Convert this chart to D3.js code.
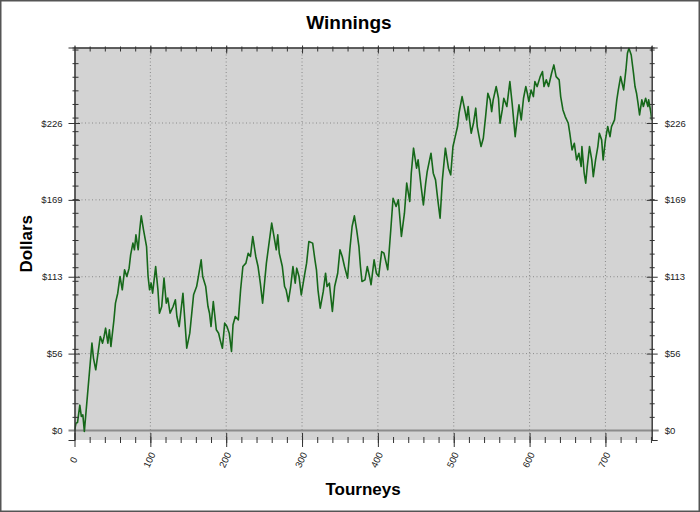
<!DOCTYPE html>
<html>
<head>
<meta charset="utf-8">
<script src="https://cdn.jsdelivr.net/npm/d3@7"></script>
<style>
  body { margin: 0; background: #fff; }
  text { font-family: "Liberation Sans", Arial, sans-serif; }
</style>
</head>
<body>
<svg width="700" height="512"></svg>
<script>
// values: tourney number and running winnings
const tourneys = [0, 2, 4, 7, 9, 11, 13, 23, 25, 28, 31, 34, 37, 39, 41, 44, 46, 48, 52, 54, 57, 60, 63, 66, 69, 72, 74, 77, 79, 81, 84, 86, 88, 91, 95, 97, 99, 101, 103, 107, 110, 112, 115, 118, 121, 123, 126, 130, 133, 135, 138, 143, 148, 152, 157, 161, 163, 167, 169, 173, 176, 178, 180, 183, 187, 190, 192, 195, 198, 201, 204, 207, 209, 212, 216, 219, 222, 226, 229, 232, 235, 239, 242, 245, 248, 253,
  260, 263, 266, 268, 270, 274, 277, 279, 282, 285, 288, 291, 293, 296, 299, 303, 306, 309, 314, 317, 319, 321, 324, 328, 331, 333, 336, 340, 343, 347, 350, 353, 356, 360, 363, 366, 369, 372, 375, 377, 379, 383, 386, 389, 391, 395, 398, 401, 405, 408, 413, 417, 420, 424, 427, 431, 435, 438, 442, 444, 447, 451, 453, 457, 460, 463, 465, 470, 473, 476, 479, 482, 485, 489, 493, 496, 499, 501, 505, 507,
  511, 515, 517, 519, 521, 523, 526, 529, 531, 533, 536, 539, 542, 545, 548, 550, 552, 556, 559, 561, 564, 566, 570, 574, 577, 581, 584, 586, 589, 592, 595, 597, 599, 602, 605, 607, 610, 614, 617, 619, 622, 625, 629, 632, 635, 639, 641, 644, 647, 651, 653, 656, 659, 662, 665, 668, 669, 672, 674, 676, 679, 682, 684, 687, 690, 692, 695, 697, 700, 703, 706, 708, 712, 715, 717, 720, 722, 724, 727, 729, 731, 734, 737, 739, 741, 743, 745, 748, 750, 753, 756, 757, 760, 761];

const dollars = [0, 5.4, 5.9, 18.6, 10.3, 11.5, -0.7, 64.2, 53.2, 44.6, 56.8, 69.1, 64.2, 69.1, 75.2, 64.2, 74, 61.7, 81.3, 93.6, 100.9, 113.2, 103.4, 118.1, 113.2, 119.3, 129.1, 137.7, 132.8, 143.8, 132.8, 147.5, 157.8, 147.5, 135.2, 113.2, 103.4, 108.3, 100.9, 120.5, 103.4, 86.2, 91.1, 112, 93.6, 97.3, 86.2, 91.1, 96, 83.8, 76.4, 100.9, 60.5, 71.5, 99.7, 105.8, 112, 125.4, 113.2, 105.8, 91.1, 86.2, 76.4, 94.8, 74, 71.5, 66.6, 60.5, 78.9, 76.4, 71.5, 58.1, 77.7, 83.8, 81.3, 103.4, 120.5, 123, 130.3, 127.9, 142.6, 127.9, 120.5, 108.3, 93.6, 123,
  152.4, 142.6, 132.8, 143.8, 130.3, 120.5, 105.8, 103.4, 94.8, 105.8, 120.5, 108.3, 119.3, 113.2, 99.7, 113.2, 123, 138.9, 137.7, 125.4, 118.1, 103.4, 89.9, 102.2, 115.6, 105.8, 108.3, 87.5, 105.8, 115.6, 132.8, 127.9, 120.5, 112, 132.8, 149.9, 157.8, 147.5, 135.2, 120.5, 109.5, 110.7, 120.5, 113.2, 107.1, 125.4, 115.6, 113.2, 131.5, 130.3, 118.1, 147.5, 170.7, 164.6, 169.5, 142.6, 159.7, 181.8, 168.3, 189.1, 207.5, 192.8, 198.9, 179.3, 165.8, 181.8, 190.3, 203.8, 189.1, 184.2, 169.5, 156, 184.2, 207.5, 192.8, 187.9, 208.7, 213.6, 223.4, 233.2,
  245.4, 234.4, 228.3, 238.1, 227.1, 218.5, 225.8, 236.9, 223.4, 217.3, 208.7, 214.8, 230.7, 247.9, 243, 234.4, 243, 252.8, 244.2, 225.8, 235.6, 244.2, 238.1, 256.4, 240.5, 216, 230.7, 239.3, 228.3, 244.2, 252.8, 247.9, 241.8, 250.3, 245.4, 256.4, 252.8, 260.1, 263.8, 252.8, 257.7, 252.8, 262.6, 268.7, 260.1, 257.7, 245.4, 235.6, 230.7, 225.8, 218.5, 206.2, 211.1, 198.9, 203.8, 194, 208.7, 189.1, 181.8, 194, 208.7, 198.9, 186.6, 198.9, 208.7, 218.5, 213.6, 198.9, 213.6, 223.4, 216, 223.4, 228.3, 243, 250.3, 260.1, 255.2, 250.3, 265, 277.3, 281, 276, 262.6, 252.8, 247.9, 240.5, 232, 243, 238.1, 244.2, 238.1, 243, 233.2, 228];

const yTicks = [0, 56.5, 113, 169.5, 226];
const yTickLabels = ["$0", "$56", "$113", "$169", "$226"];
const xTicks = [0, 100, 200, 300, 400, 500, 600, 700];
const yMinor = d3.range(10, 281, 10);
const xMinor = d3.range(20, 761, 20);

var svg = d3.select("svg"),
  width = +svg.attr("width"),
  height = +svg.attr("height");

var x = d3.scaleLinear().domain([0, 761]).range([74.5, 651.7]);
var y = d3.scaleLinear().domain([-7, 281.5]).range([440, 47.5]);

// outer frame
svg.append("rect")
  .attr("x", 0.75).attr("y", 0.75)
  .attr("width", width - 1.5).attr("height", height - 1.5)
  .attr("fill", "none").attr("stroke", "#555").attr("stroke-width", 1.5);

// plot background
svg.append("rect")
  .attr("x", x.range()[0]).attr("y", y.range()[1])
  .attr("width", x.range()[1] - x.range()[0])
  .attr("height", y.range()[0] - y.range()[1])
  .attr("fill", "#d3d3d3");

// dotted grid
svg.append("g").selectAll("line")
  .data(xTicks.slice(1))
  .enter().append("line")
  .attr("x1", d => x(d)).attr("x2", d => x(d))
  .attr("y1", y.range()[1]).attr("y2", y.range()[0])
  .attr("stroke", "#8a8a8a").attr("stroke-dasharray", "1,2.5");

svg.append("g").selectAll("line")
  .data(yTicks.slice(1))
  .enter().append("line")
  .attr("x1", x.range()[0]).attr("x2", x.range()[1])
  .attr("y1", d => y(d)).attr("y2", d => y(d))
  .attr("stroke", "#8a8a8a").attr("stroke-dasharray", "1,2.5");

// zero line
svg.append("line")
  .attr("x1", x.range()[0] - 6).attr("x2", x.range()[1] + 7)
  .attr("y1", y(0)).attr("y2", y(0))
  .attr("stroke", "#8c8c8c").attr("stroke-width", 2);

svg.append("clipPath").attr("id", "clip")
  .append("rect")
  .attr("x", x.range()[0]).attr("y", y.range()[1])
  .attr("width", x.range()[1] - x.range()[0])
  .attr("height", y.range()[0] - y.range()[1]);

var line = d3.line()
  .x((d, i) => x(tourneys[i]))
  .y(d => y(d));

svg.append("path")
  .datum(dollars)
  .attr("clip-path", "url(#clip)")
  .attr("fill", "none")
  .attr("stroke", "#16681a")
  .attr("stroke-width", 1.6)
  .attr("stroke-linejoin", "round")
  .attr("d", line);

// ticks cross the axis line: inner part into the plot, outer part away from it
function crossTicks(g, inner, outer, horiz) {
  g.selectAll(".tick line").each(function() {
    var l = d3.select(this);
    if (horiz) {
      var s = +l.attr("y2") < 0 ? -1 : 1;
      l.attr("y1", -s * inner).attr("y2", s * outer);
    } else {
      var s2 = +l.attr("x2") < 0 ? -1 : 1;
      l.attr("x1", -s2 * inner).attr("x2", s2 * outer);
    }
  });
  g.selectAll(".tick line").attr("stroke", "#333");
  g.select(".domain").attr("stroke", "#333");
  g.selectAll(".tick text")
    .attr("fill", "#222")
    .style("font-size", "9.5px")
    .style("font-family", "'Liberation Sans', Arial, sans-serif");
}

var leftAxis = svg.append("g").attr("transform", `translate(${x.range()[0]},0)`);
leftAxis.append("g").call(d3.axisLeft(y).tickValues(yMinor).tickFormat("").tickSizeOuter(0).tickSize(2))
  .call(g => crossTicks(g, 4, 2, false));
leftAxis.append("g").call(d3.axisLeft(y).tickValues(yTicks.slice(1)).tickFormat((d, i) => yTickLabels[i + 1]).tickSizeOuter(0).tickSize(6).tickPadding(6))
  .call(g => crossTicks(g, 5.5, 6, false));

var rightAxis = svg.append("g").attr("transform", `translate(${x.range()[1]},0)`);
rightAxis.append("g").call(d3.axisRight(y).tickValues(yMinor).tickFormat("").tickSizeOuter(0).tickSize(3))
  .call(g => crossTicks(g, 2, 3, false));
rightAxis.append("g").call(d3.axisRight(y).tickValues(yTicks.slice(1)).tickFormat((d, i) => yTickLabels[i + 1]).tickSizeOuter(0).tickSize(6).tickPadding(7))
  .call(g => crossTicks(g, 5, 6, false));

// $0 labels sit on the zero line
[[x.range()[0] - 12, "end"], [x.range()[1] + 13, "start"]].forEach(function(p) {
  svg.append("text")
    .attr("x", p[0]).attr("y", y(0)).attr("dy", "0.35em")
    .attr("text-anchor", p[1])
    .attr("fill", "#222")
    .style("font-size", "9.5px")
    .text(yTickLabels[0]);
});

var topAxis = svg.append("g").attr("transform", `translate(0,${y.range()[1]})`);
topAxis.append("g").call(d3.axisTop(x).tickValues(xMinor).tickFormat("").tickSizeOuter(0).tickSize(1))
  .call(g => crossTicks(g, 4, 1, true));
topAxis.append("g").call(d3.axisTop(x).tickValues(xTicks.slice(1)).tickFormat("").tickSizeOuter(0).tickSize(2))
  .call(g => crossTicks(g, 6, 2, true));

var bottomAxis = svg.append("g").attr("transform", `translate(0,${y.range()[0]})`);
bottomAxis.append("g").call(d3.axisBottom(x).tickValues(xMinor).tickFormat("").tickSizeOuter(0).tickSize(3))
  .call(g => crossTicks(g, 3, 3, true));
bottomAxis.append("g").call(d3.axisBottom(x).tickValues(xTicks).tickFormat("").tickSizeOuter(0).tickSize(7))
  .call(g => crossTicks(g, 7, 7, true));
bottomAxis.selectAll(".domain").remove();

// rotated x labels
svg.append("g").selectAll("text")
  .data(xTicks)
  .enter().append("text")
  .attr("transform", d => `translate(${x(d) - 1},460) rotate(-65)`)
  .attr("text-anchor", "middle")
  .attr("dy", "0.35em")
  .attr("fill", "#222")
  .style("font-size", "9.5px")
  .text(d => d);

// titles
svg.append("text")
  .attr("x", 349).attr("y", 29)
  .attr("text-anchor", "middle")
  .attr("font-weight", "bold")
  .style("font-size", "19px")
  .text("Winnings");

svg.append("text")
  .attr("x", (x.range()[0] + x.range()[1]) / 2).attr("y", 495)
  .attr("text-anchor", "middle")
  .attr("font-weight", "bold")
  .style("font-size", "17px")
  .text("Tourneys");

svg.append("text")
  .attr("transform", `translate(32,${(y.range()[0] + y.range()[1]) / 2}) rotate(-90)`)
  .attr("text-anchor", "middle")
  .attr("font-weight", "bold")
  .style("font-size", "17px")
  .text("Dollars");
</script>
</body>
</html>
